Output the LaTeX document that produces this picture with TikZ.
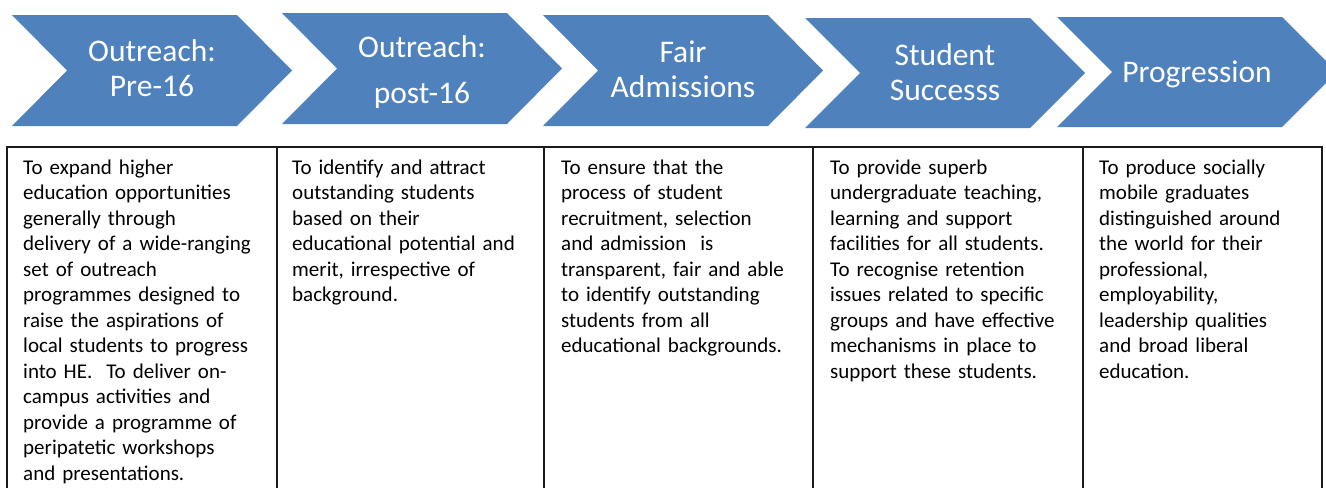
\documentclass[tikz,border=0pt]{standalone}
\usepackage{fontspec}
\setmainfont{Carlito}
\definecolor{chevblue}{HTML}{4F81BD}
\definecolor{rulecol}{HTML}{1A1A1A}
\begin{document}
\begin{tikzpicture}[x=1pt,y=-1pt,
  chevlabel/.style={text=white, text width=240pt, align=center, inner sep=0pt, anchor=base},
  cell/.style={font=\fontsize{21}{25.5}\selectfont, text width=262pt, align=left, inner sep=0pt, anchor=base west},
  tablerule/.style={line width=2pt, draw=rulecol}]
\useasboundingbox (0,0) rectangle (1326,488);

% process chevrons: left edge / top / bottom
\foreach \l/\t/\b in {12/15/126, 282/13/124, 543/15/126, 805/18/128, 1057/17/127} {
  \fill[chevblue] (\l,\t) -- ({\l+225},\t) -- ({\l+280},{(\t+\b)/2}) -- ({\l+225},\b)
    -- (\l,\b) -- ({\l+55},{(\t+\b)/2}) -- cycle;
}

% chevron captions
\node[chevlabel, font=\fontsize{31.5}{35}\selectfont] (lab1) at (152,61) {Outreach:\\Pre-16};
\node[chevlabel, font=\fontsize{31.5}{46}\selectfont] (lab2) at (422,57) {Outreach:\\post-16};
\node[chevlabel, font=\fontsize{31.5}{35}\selectfont] (lab3) at (683,62) {Fair\\Admissions};
\node[chevlabel, font=\fontsize{31.5}{35}\selectfont] (lab4) at (945,65) {Student\\Successs};
\node[chevlabel, font=\fontsize{31.5}{35}\selectfont] (lab5) at (1197,82) {Progression};

% table frame and column rules
\draw[tablerule] (7,488) -- (7,147) -- (1322,147) -- (1322,488);
\foreach \x in {277,544,813,1083} {
  \draw[tablerule] (\x,147) -- (\x,488);
}

% column texts
\node[cell] (c1) at (23,174) {To expand higher\\education opportunities\\generally through\\delivery of a wide-ranging\\set of outreach\\programmes designed to\\raise the aspirations of\\local students to progress\\into HE.\ \ To deliver on-\\campus activities and\\provide a programme of\\peripatetic workshops\\and presentations.};
\node[cell] (c2) at (292,174) {To identify and attract\\outstanding students\\based on their\\educational potential and\\merit, irrespective of\\background.};
\node[cell] (c3) at (561,174) {To ensure that the\\process of student\\recruitment, selection\\and admission\ \ is\\transparent, fair and able\\to identify outstanding\\students from all\\educational backgrounds.};
\node[cell] (c4) at (830,174) {To provide superb\\undergraduate teaching,\\learning and support\\facilities for all students.\\To recognise retention\\issues related to specific\\groups and have effective\\mechanisms in place to\\support these students.};
\node[cell] (c5) at (1099,174) {To produce socially\\mobile graduates\\distinguished around\\the world for their\\professional,\\employability,\\leadership qualities\\and broad liberal\\education.};
\end{tikzpicture}
\end{document}
